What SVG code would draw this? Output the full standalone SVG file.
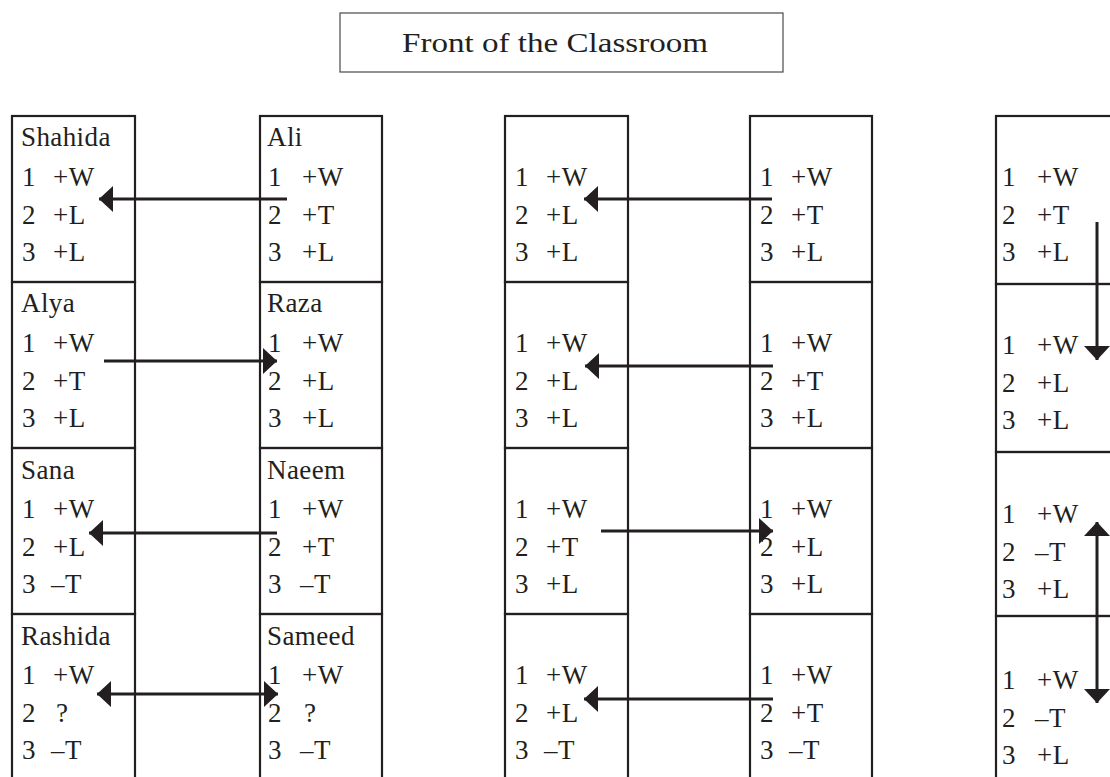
<svg xmlns="http://www.w3.org/2000/svg" width="1110" height="777" viewBox="0 0 1110 777">
<style>
.bg{fill:#ffffff}
.cell{fill:none;stroke:#231f20;stroke-width:2.2}
.hdr{fill:none;stroke:#4a4a4a;stroke-width:1.2}
text{font-family:"Liberation Serif","Times New Roman",serif;font-size:27px;fill:#231f20;letter-spacing:0.4px}
.ht{font-size:28px;letter-spacing:0}
.arr{stroke:#231f20;stroke-width:3;fill:none}
</style>
<defs>
<marker id="ah" viewBox="0 0 14 26" refX="14" refY="13" markerWidth="14" markerHeight="26" orient="auto-start-reverse" markerUnits="userSpaceOnUse">
<path d="M0,0 L14,13 L0,26 Z" fill="#231f20"/>
</marker>
</defs>
<rect class="bg" x="0" y="0" width="1110" height="777"/>

<g id="header">
<rect class="hdr" x="340" y="13" width="443" height="59"/>
<text class="ht" x="402" y="52" textLength="306" lengthAdjust="spacingAndGlyphs">Front of the Classroom</text>
</g>

<!-- Column 1 -->
<g id="shahida">
<rect class="cell" x="12" y="116" width="123" height="166"/>
<text x="21" y="146">Shahida</text>
<text x="22" y="186">1</text><text x="53" y="186">+W</text>
<text x="22" y="224">2</text><text x="53" y="224">+L</text>
<text x="22" y="261">3</text><text x="53" y="261">+L</text>
</g>
<g id="alya">
<rect class="cell" x="12" y="282" width="123" height="166"/>
<text x="21" y="312">Alya</text>
<text x="22" y="352">1</text><text x="53" y="352">+W</text>
<text x="22" y="390">2</text><text x="53" y="390">+T</text>
<text x="22" y="427">3</text><text x="53" y="427">+L</text>
</g>
<g id="sana">
<rect class="cell" x="12" y="448" width="123" height="166"/>
<text x="21" y="479">Sana</text>
<text x="22" y="518">1</text><text x="53" y="518">+W</text>
<text x="22" y="556">2</text><text x="53" y="556">+L</text>
<text x="22" y="593">3</text><text x="51" y="593">–T</text>
</g>
<g id="rashida">
<rect class="cell" x="12" y="614" width="123" height="200"/>
<text x="21" y="645">Rashida</text>
<text x="22" y="684">1</text><text x="53" y="684">+W</text>
<text x="22" y="722">2</text><text x="56" y="722">?</text>
<text x="22" y="759">3</text><text x="51" y="759">–T</text>
</g>

<!-- Column 2 -->
<g id="ali">
<rect class="cell" x="260" y="116" width="122" height="166"/>
<text x="267" y="146">Ali</text>
<text x="268" y="186">1</text><text x="302" y="186">+W</text>
<text x="268" y="224">2</text><text x="302" y="224">+T</text>
<text x="268" y="261">3</text><text x="302" y="261">+L</text>
</g>
<g id="raza">
<rect class="cell" x="260" y="282" width="122" height="166"/>
<text x="267" y="312">Raza</text>
<text x="268" y="352">1</text><text x="302" y="352">+W</text>
<text x="268" y="390">2</text><text x="302" y="390">+L</text>
<text x="268" y="427">3</text><text x="302" y="427">+L</text>
</g>
<g id="naeem">
<rect class="cell" x="260" y="448" width="122" height="166"/>
<text x="267" y="479">Naeem</text>
<text x="268" y="518">1</text><text x="302" y="518">+W</text>
<text x="268" y="556">2</text><text x="302" y="556">+T</text>
<text x="268" y="593">3</text><text x="300" y="593">–T</text>
</g>
<g id="sameed">
<rect class="cell" x="260" y="614" width="122" height="200"/>
<text x="267" y="645">Sameed</text>
<text x="268" y="684">1</text><text x="302" y="684">+W</text>
<text x="268" y="722">2</text><text x="304" y="722">?</text>
<text x="268" y="759">3</text><text x="300" y="759">–T</text>
</g>

<!-- Column 3 -->
<g id="c3r1">
<rect class="cell" x="505" y="116" width="123" height="166"/>
<text x="515" y="186">1</text><text x="546" y="186">+W</text>
<text x="515" y="224">2</text><text x="546" y="224">+L</text>
<text x="515" y="261">3</text><text x="546" y="261">+L</text>
</g>
<g id="c3r2">
<rect class="cell" x="505" y="282" width="123" height="166"/>
<text x="515" y="352">1</text><text x="546" y="352">+W</text>
<text x="515" y="390">2</text><text x="546" y="390">+L</text>
<text x="515" y="427">3</text><text x="546" y="427">+L</text>
</g>
<g id="c3r3">
<rect class="cell" x="505" y="448" width="123" height="166"/>
<text x="515" y="518">1</text><text x="546" y="518">+W</text>
<text x="515" y="556">2</text><text x="546" y="556">+T</text>
<text x="515" y="593">3</text><text x="546" y="593">+L</text>
</g>
<g id="c3r4">
<rect class="cell" x="505" y="614" width="123" height="200"/>
<text x="515" y="684">1</text><text x="546" y="684">+W</text>
<text x="515" y="722">2</text><text x="546" y="722">+L</text>
<text x="515" y="759">3</text><text x="544" y="759">–T</text>
</g>

<!-- Column 4 -->
<g id="c4r1">
<rect class="cell" x="750" y="116" width="122" height="166"/>
<text x="760" y="186">1</text><text x="791" y="186">+W</text>
<text x="760" y="224">2</text><text x="791" y="224">+T</text>
<text x="760" y="261">3</text><text x="791" y="261">+L</text>
</g>
<g id="c4r2">
<rect class="cell" x="750" y="282" width="122" height="166"/>
<text x="760" y="352">1</text><text x="791" y="352">+W</text>
<text x="760" y="390">2</text><text x="791" y="390">+T</text>
<text x="760" y="427">3</text><text x="791" y="427">+L</text>
</g>
<g id="c4r3">
<rect class="cell" x="750" y="448" width="122" height="166"/>
<text x="760" y="518">1</text><text x="791" y="518">+W</text>
<text x="760" y="556">2</text><text x="791" y="556">+L</text>
<text x="760" y="593">3</text><text x="791" y="593">+L</text>
</g>
<g id="c4r4">
<rect class="cell" x="750" y="614" width="122" height="200"/>
<text x="760" y="684">1</text><text x="791" y="684">+W</text>
<text x="760" y="722">2</text><text x="791" y="722">+T</text>
<text x="760" y="759">3</text><text x="789" y="759">–T</text>
</g>

<!-- Column 5 -->
<g id="c5r1">
<rect class="cell" x="996" y="116" width="200" height="168"/>
<text x="1002" y="186">1</text><text x="1037" y="186">+W</text>
<text x="1002" y="224">2</text><text x="1037" y="224">+T</text>
<text x="1002" y="261">3</text><text x="1037" y="261">+L</text>
</g>
<g id="c5r2">
<rect class="cell" x="996" y="284" width="200" height="168"/>
<text x="1002" y="354">1</text><text x="1037" y="354">+W</text>
<text x="1002" y="392">2</text><text x="1037" y="392">+L</text>
<text x="1002" y="429">3</text><text x="1037" y="429">+L</text>
</g>
<g id="c5r3">
<rect class="cell" x="996" y="452" width="200" height="164"/>
<text x="1002" y="523">1</text><text x="1037" y="523">+W</text>
<text x="1002" y="561">2</text><text x="1035" y="561">–T</text>
<text x="1002" y="598">3</text><text x="1037" y="598">+L</text>
</g>
<g id="c5r4">
<rect class="cell" x="996" y="616" width="200" height="200"/>
<text x="1002" y="689">1</text><text x="1037" y="689">+W</text>
<text x="1002" y="727">2</text><text x="1035" y="727">–T</text>
<text x="1002" y="764">3</text><text x="1037" y="764">+L</text>
</g>

<g id="connectors">
<line class="arr" x1="287" y1="199" x2="99" y2="199" marker-end="url(#ah)"/>
<line class="arr" x1="104" y1="361" x2="277" y2="361" marker-end="url(#ah)"/>
<line class="arr" x1="277" y1="533" x2="89" y2="533" marker-end="url(#ah)"/>
<line class="arr" x1="97" y1="694" x2="278" y2="694" marker-start="url(#ah)" marker-end="url(#ah)"/>
<line class="arr" x1="772" y1="199" x2="584" y2="199" marker-end="url(#ah)"/>
<line class="arr" x1="773" y1="366" x2="585" y2="366" marker-end="url(#ah)"/>
<line class="arr" x1="601" y1="531" x2="773" y2="531" marker-end="url(#ah)"/>
<line class="arr" x1="773" y1="699" x2="584" y2="699" marker-end="url(#ah)"/>
<line class="arr" x1="1097" y1="222" x2="1097" y2="360" marker-end="url(#ah)"/>
<line class="arr" x1="1097" y1="522" x2="1097" y2="703" marker-start="url(#ah)" marker-end="url(#ah)"/>
</g>
</svg>
